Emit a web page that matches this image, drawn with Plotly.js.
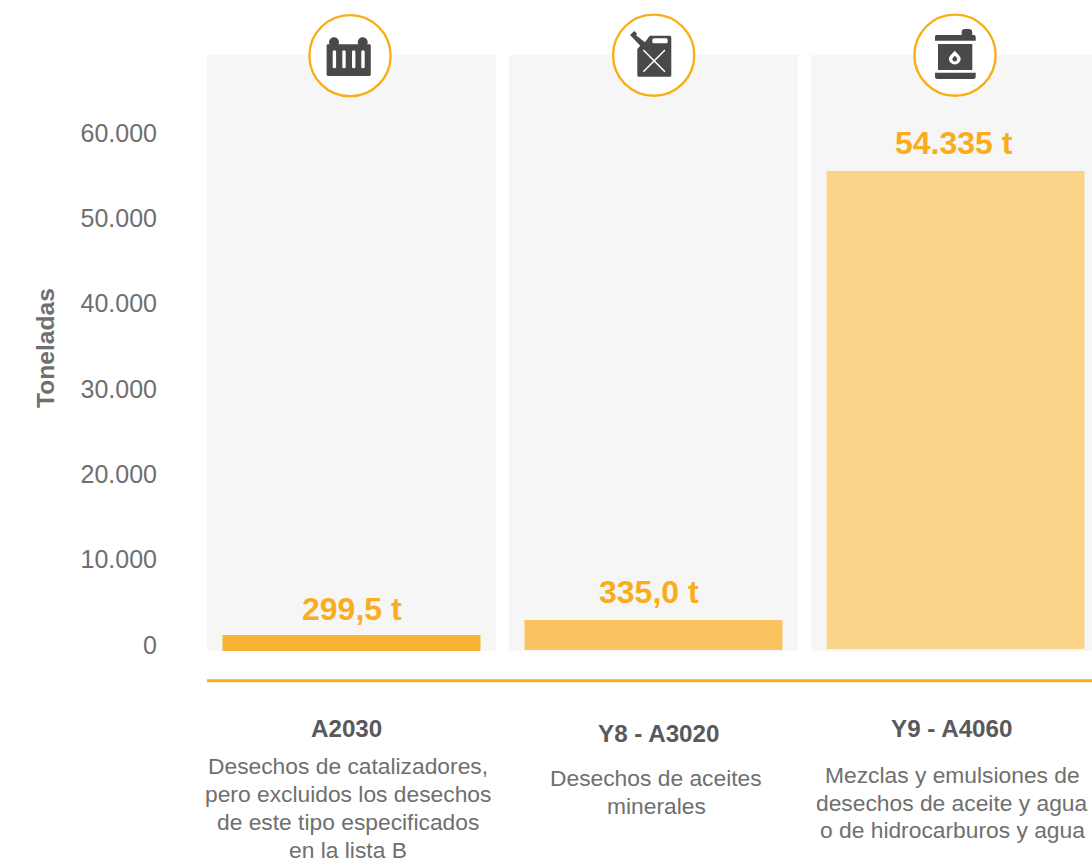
<!DOCTYPE html>
<html><head><meta charset="utf-8">
<script src="https://cdn.plot.ly/plotly-3.0.1.min.js"></script>
<style>html,body{margin:0;padding:0;background:#fff}#c{width:1092px;height:862px}</style></head>
<body><div id="c"></div>
<script>
const categories = ['A2030', 'Y8 - A3020', 'Y9 - A4060'];
const barTop = [1170, 2930, 55550];
const barBase = [-700, -590, -470];
const barLabels = ['299,5 t', '335,0 t', '54.335 t'];
const labelY = [4250, 6250, 58800];
const barColors = ['#f9b233', '#fac35f', '#fbd48c'];
const panelTop = [69140, 69140, 69140];
const panelBase = [-703, -703, -703];
const tickVals = [0, 10000, 20000, 30000, 40000, 50000, 60000];
const tickText = ['0', '10.000', '20.000', '30.000', '40.000', '50.000', '60.000'];
const descriptions = [
  ['Desechos de catalizadores,', 'pero excluidos los desechos', 'de este tipo especificados', 'en la lista B'],
  ['Desechos de aceites', 'minerales'],
  ['Mezclas y emulsiones de', 'desechos de aceite y agua', 'o de hidrocarburos y agua']
];
const W = 1092, H = 862, MT = 45, MB = 211, ML = 207;
const ORANGE = '#f8ae17', DARK = '#4a4947', GREY = '#6f6f6f', HEAD = '#58595b';
const FONT = '"Liberation Sans", Arial, sans-serif';

const svgIcon = inner => 'data:image/svg+xml;utf8,' + encodeURIComponent(
  '<svg xmlns="http://www.w3.org/2000/svg" width="84" height="84" viewBox="0 0 84 84">' +
  '<circle cx="42" cy="42" r="40.6" fill="#fff" stroke="' + ORANGE + '" stroke-width="2.4"/>' + inner + '</svg>');

const icons = [
  svgIcon('<g fill="' + DARK + '"><circle cx="26" cy="28.5" r="5"/><circle cx="54.7" cy="28.5" r="5"/>' +
    '<path d="M20 30.5H61.5a1.3 1.3 0 0 1 1.3 1.3V60.8a1.4 1.4 0 0 1-1.4 1.4H20a1.4 1.4 0 0 1-1.4-1.4V31.9a1.4 1.4 0 0 1 1.4-1.4z"/></g>' +
    '<g fill="#fff"><rect x="24.7" y="36.5" width="3.4" height="18" rx="1.5"/><rect x="34.3" y="36.5" width="3.4" height="18" rx="1.5"/><rect x="44" y="36.5" width="3.4" height="18" rx="1.5"/><rect x="53.3" y="36.5" width="3.4" height="18" rx="1.5"/></g>'),
  svgIcon('<path fill="' + DARK + '" d="M18.3 21.8L22.6 17.8L25.5 20.5L24.3 22L33.3 29L38 22.5H58a1.6 1.6 0 0 1 1.6 1.6V62a1.5 1.5 0 0 1-1.5 1.5H27a1.4 1.4 0 0 1-1.4-1.4V36.1L28.5 32.5L21.5 25z"/>' +
    '<rect x="40.6" y="25.1" width="15.4" height="5" rx="1.6" fill="#fff"/>' +
    '<path d="M31.6 36.8L53.3 58.5M53.3 36.8L31.6 58.5" stroke="#fff" stroke-width="1.5" fill="none"/>'),
  svgIcon('<g fill="' + DARK + '"><path d="M23.5 21.8H48.7V19a3.2 3.2 0 0 1 3.2-3.2H56a3.2 3.2 0 0 1 3.2 3.2V21.8H61a1.7 1.7 0 0 1 1.7 1.7V27.5H22V23.3a1.5 1.5 0 0 1 1.5-1.5z"/>' +
    '<rect x="25" y="30.8" width="34.3" height="26"/><path d="M22 59.5H62.7V63.3a2.5 2.5 0 0 1-2.5 2.5H24.5a2.5 2.5 0 0 1-2.5-2.5z"/></g>' +
    '<path fill-rule="evenodd" fill="#fff" d="M41.8 37.5C44 40.5 47.7 42.5 47.7 45.5a5.9 5.9 0 0 1-11.8 0C35.9 42.5 39.6 40.5 41.8 37.5zM41.8 42.6C40.8 43.8 39.3 44.8 39.3 45.9a2.5 2.5 0 0 0 5 0C44.3 44.8 42.8 43.8 41.8 42.6z"/>')
];
const iconCx = [350, 653.7, 955], iconCy = [55.7, 55.2, 55.2];

const plotW = W - ML, plotH = H - MT - MB;
const fy = v => 1 - (v - MT) / plotH;
const fx = v => (v - ML) / plotW;
const X0 = 351.5, STEP = 302;

const traces = [
  { type: 'bar', x: categories, y: panelTop.map((t, i) => t - panelBase[i]), base: panelBase, width: 289 / STEP,
    marker: { color: '#f6f6f6' }, hoverinfo: 'skip', showlegend: false },
  { type: 'bar', x: categories, y: barTop.map((t, i) => t - barBase[i]), base: barBase, width: 258 / STEP,
    marker: { color: barColors }, hoverinfo: 'skip', showlegend: false }
];

const annotations = [];
const labelShift = [0, -5, -2], headShift = [-5, 4.5, -4.5], descShift = [-4, 2.5, -3.5];
const headY = [729, 733, 729], descY0 = [766, 778, 774.5];
categories.forEach((c, i) => {
  annotations.push({ xref: 'x', yref: 'y', x: i, y: labelY[i], xshift: labelShift[i], yanchor: 'middle', xanchor: 'center', showarrow: false,
    text: '<b>' + barLabels[i] + '</b>', font: { family: FONT, size: 32, color: '#f9ad1d' } });
  annotations.push({ xref: 'x', yref: 'paper', x: i, y: fy(headY[i]), xshift: headShift[i], yanchor: 'middle', xanchor: 'center', showarrow: false,
    text: '<b>' + c + '</b>', font: { family: FONT, size: 24.2, color: HEAD } });
  descriptions[i].forEach((line, k) => {
    annotations.push({ xref: 'x', yref: 'paper', x: i, y: fy(descY0[i] + 28 * k), xshift: descShift[i], yanchor: 'middle', xanchor: 'center', showarrow: false,
      text: line, font: { family: FONT, size: 22.8, color: GREY } });
  });
});

const layout = {
  width: W, height: H,
  margin: { l: ML, r: 0, t: MT, b: MB, pad: 0 },
  paper_bgcolor: '#fff', plot_bgcolor: '#fff',
  barmode: 'overlay', showlegend: false,
  font: { family: FONT },
  xaxis: { type: 'category', categoryorder: 'array', categoryarray: categories,
    range: [(ML - X0) / STEP, (W - X0) / STEP], showticklabels: false, ticks: '', showgrid: false, zeroline: false, showline: false, fixedrange: true },
  yaxis: { range: [-703, 70312], tickmode: 'array', tickvals: tickVals, ticktext: tickText,
    tickfont: { family: FONT, size: 25, color: GREY }, ticks: 'outside', ticklen: 44, tickcolor: 'rgba(0,0,0,0)', tickwidth: 0,
    showgrid: false, zeroline: false, showline: false, fixedrange: true,
    title: { text: '<b>Toneladas</b>', font: { family: FONT, size: 24.6, color: GREY }, standoff: 18 } },
  shapes: [
    { type: 'line', xref: 'paper', yref: 'paper', x0: 0, x1: 1, y0: fy(680.7), y1: fy(680.7), layer: 'above', line: { color: ORANGE, width: 3 } }
  ],
  images: icons.map((src, i) => ({ source: src, xref: 'paper', yref: 'paper', x: fx(iconCx[i]), y: fy(iconCy[i]),
    sizex: 84 / plotW, sizey: 84 / plotH, xanchor: 'center', yanchor: 'middle', sizing: 'contain', layer: 'above' })),
  annotations: annotations
};

Plotly.newPlot('c', traces, layout, { displayModeBar: false, staticPlot: true });
</script></body></html>
